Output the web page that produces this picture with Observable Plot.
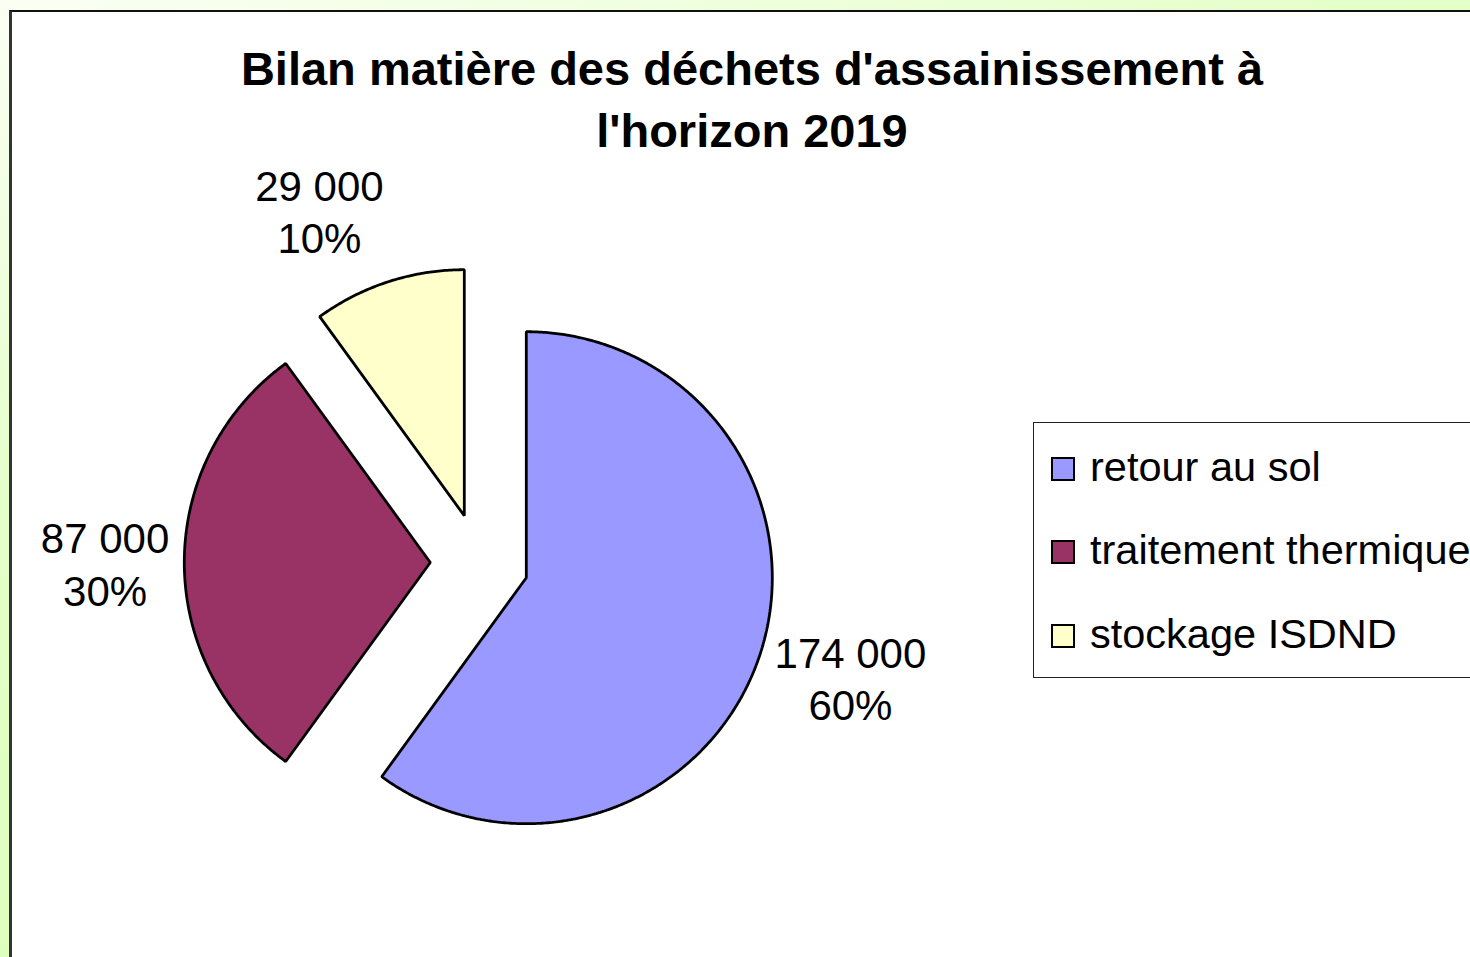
<!DOCTYPE html>
<html>
<head>
<meta charset="utf-8">
<script src="https://cdn.jsdelivr.net/npm/d3@7"></script>
<script src="https://cdn.jsdelivr.net/npm/@observablehq/plot@0.6"></script>
<style>
  html, body { margin: 0; padding: 0; width: 1470px; height: 957px; overflow: hidden; }
  body { background: linear-gradient(160deg, #fbfff4 0%, #e4ffc8 35%, #d6ffb2 100%); font-family: "Liberation Sans", Arial, sans-serif; position: relative; }
  #box { position: absolute; left: 9px; top: 10px; width: 1500px; height: 1000px; background: #fff; border-top: 2px solid #111; border-left: 3px solid #333; box-sizing: border-box; }
  #title { position: absolute; left: 152px; width: 1200px; top: 38px; text-align: center; font-weight: bold; font-size: 47px; line-height: 62px; color: #000; }
  #chart { position: absolute; left: 0; top: 0; }
  #legend { position: absolute; left: 1033px; top: 422px; width: 600px; height: 256px; border: 1px solid #222; box-sizing: border-box; background: #fff; }
  .lg-sw { position: absolute; width: 20px; height: 20px; border: 2px solid #000; }
  .lg-tx { position: absolute; white-space: nowrap; font-size: 41.5px; line-height: 46px; color: #000; }
</style>
</head>
<body>
<div id="box"></div>
<div id="chart"></div>
<div id="title"></div>
<div id="legend"></div>
<script>
// ---- data ----
const categories = ["retour au sol", "traitement thermique", "stockage ISDND"];
const values = [174000, 87000, 29000];
const colors = ["#9999FF", "#993366", "#FFFFCC"];
const titleLines = ["Bilan matière des déchets d'assainissement à", "l'horizon 2019"];

// ---- layout ----
const W = 1470, H = 957;
const R = 246;            // pie radius in px
const CX = 479, CY = 562; // pie centre in px
const explode = 0.2;      // explosion distance, in radii
const labelFont = 42;
const labelLine = 1.25;

const total = d3.sum(values);
const fmtNum = v => d3.format(",")(v).replace(/,/g, " ");

const polys = [];
const labels = [];
let acc = 0;
const canvas = document.createElement("canvas");
const ctx = canvas.getContext("2d");
ctx.font = `${labelFont}px "Liberation Sans", Arial, sans-serif`;
values.forEach((v, i) => {
  const a0 = acc / total * 2 * Math.PI;
  acc += v;
  const a1 = acc / total * 2 * Math.PI;
  const m = (a0 + a1) / 2;
  const ox = explode * Math.sin(m), oy = explode * Math.cos(m);
  const pts = [{x: ox, y: oy}];
  const n = Math.max(2, Math.ceil((a1 - a0) / (Math.PI / 360)));
  for (let k = 0; k <= n; k++) {
    const a = a0 + (a1 - a0) * k / n;
    pts.push({x: ox + Math.sin(a), y: oy + Math.cos(a)});
  }
  polys.push({cat: categories[i], color: colors[i], pts});
  const pct = Math.round(v / total * 100) + "%";
  const txt = fmtNum(v) + "\n" + pct;
  const w = Math.max(ctx.measureText(fmtNum(v)).width, ctx.measureText(pct).width);
  const h = 2 * labelFont * labelLine + 16;
  const gap = 15 / R;
  const d = 1 + explode + gap;
  const sx = Math.sin(m), cy = Math.cos(m);
  const lx = d * sx + (Math.abs(sx) > 0.05 ? Math.sign(sx) * (w / 2) / R : 0);
  const ly = d * cy + (h / 2) * cy / R;
  labels.push({x: lx, y: ly, text: txt});
});

const marks = polys.map(p => Plot.line(p.pts, {
  x: "x", y: "y", curve: "linear-closed",
  fill: p.color, stroke: "#000", strokeWidth: 2.8, strokeLinejoin: "miter"
}));
marks.push(Plot.text(labels, {
  x: "x", y: "y", text: "text", fontSize: labelFont, lineHeight: labelLine,
  textAnchor: "middle", lineAnchor: "middle", fill: "#000",
  fontFamily: '"Liberation Sans", Arial, sans-serif'
}));

const chart = Plot.plot({
  width: W, height: H,
  margin: 0,
  x: {domain: [-CX / R, (W - CX) / R], axis: null},
  y: {domain: [-(H - CY) / R, CY / R], axis: null},
  style: {background: "transparent", overflow: "visible"},
  marks
});
document.getElementById("chart").appendChild(chart);

// Legend
const lg = document.getElementById("legend");
const rowTops = [34, 117, 201];
categories.forEach((c, i) => {
  const sw = document.createElement("div");
  sw.className = "lg-sw";
  sw.style.background = colors[i];
  sw.style.left = "17px";
  sw.style.top = rowTops[i] + "px";
  lg.appendChild(sw);
  const tx = document.createElement("div");
  tx.className = "lg-tx";
  tx.textContent = c;
  tx.style.left = "56px";
  tx.style.top = (rowTops[i] - 13) + "px";
  lg.appendChild(tx);
});
document.getElementById("title").innerHTML = titleLines.join("<br>");
</script>
</body>
</html>
